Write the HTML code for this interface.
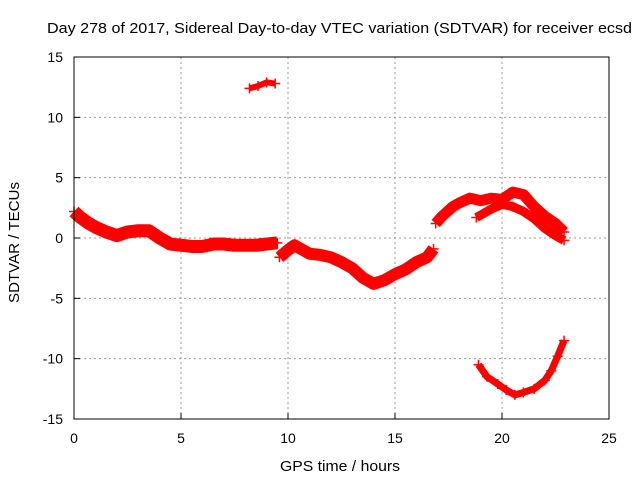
<!DOCTYPE html>
<html><head><meta charset="utf-8"><style>
body{margin:0;background:#fff}
svg{font-family:"Liberation Sans",sans-serif;font-size:13px}
</style></head><body>
<svg id="c" width="640" height="480">
<text x="47" y="33" font-size="15" textLength="585" lengthAdjust="spacingAndGlyphs">Day 278 of 2017, Sidereal Day-to-day VTEC variation (SDTVAR) for receiver ecsd</text>
<text x="280" y="471" font-size="15" textLength="120" lengthAdjust="spacingAndGlyphs">GPS time / hours</text>
<text transform="translate(19,303) rotate(-90)" font-size="15" textLength="121" lengthAdjust="spacingAndGlyphs">SDTVAR / TECUs</text>
<g id="grid"></g><g id="marks"></g>
<rect x="74" y="57" width="535" height="362" fill="none" stroke="#000" stroke-width="1"/>
</svg>
<script>
const xTicks=[0,5,10,15,20,25];
const yTicks=[-15,-10,-5,0,5,10,15];
const segA_x=[0,0.3,0.7,1.0,1.5,2.0,2.5,3.0,3.5,4.0,4.5,5.0,5.5,6.0,6.5,7.0,7.5,8.0,8.5,9.0,9.5];
const segA_y=[2.2,1.7,1.2,0.9,0.5,0.2,0.5,0.6,0.6,0.0,-0.5,-0.6,-0.7,-0.7,-0.5,-0.5,-0.6,-0.6,-0.6,-0.5,-0.4];
const segB_x=[9.6,10.0,10.3,10.7,11.0,11.5,12.0,12.5,13.0,13.5,14.0,14.5,15.0,15.5,16.0,16.5,16.8];
const segB_y=[-1.6,-1.0,-0.6,-1.0,-1.3,-1.4,-1.6,-2.0,-2.5,-3.3,-3.8,-3.5,-3.0,-2.6,-2.0,-1.6,-0.9];
const segC_x=[16.9,17.2,17.7,18.0,18.5,19.0,19.5,20.0,20.5,21.0,21.5,22.0,22.5,22.9];
const segC_y=[1.2,1.8,2.6,2.9,3.3,3.1,3.3,3.2,3.8,3.6,2.6,1.8,1.2,0.5];
const segF_x=[18.8,19.5,20.0,20.5,21.0,21.5,22.0,22.5,22.9];
const segF_y=[1.7,2.4,2.8,2.6,2.2,1.6,0.8,0.2,-0.2];
const segD_x=[18.9,19.3,19.8,20.2,20.6,21.0,21.5,22.0,22.3,22.6,22.9];
const segD_y=[-10.5,-11.5,-12.1,-12.6,-13.0,-12.8,-12.5,-11.8,-11.0,-9.8,-8.5];
const segE_x=[8.2,8.6,9.0,9.4];
const segE_y=[12.4,12.6,12.9,12.8];
const X=v=>74+v*535/25, Y=v=>238-v*362/30;
const NS="http://www.w3.org/2000/svg", svg=document.getElementById('c');
const grid=document.getElementById('grid'), marks=document.getElementById('marks');
xTicks.forEach(t=>{
  const x=X(t);
  if(t>0&&t<25){const l=document.createElementNS(NS,'line');
  
  
  l.setAttribute('x1',x);l.setAttribute('x2',x);l.setAttribute('y1',57);l.setAttribute('y2',419);
  l.setAttribute('stroke','#999');l.setAttribute('stroke-dasharray','2,3');grid.appendChild(l);}
  const tk=document.createElementNS(NS,'line');
  
  
  tk.setAttribute('x1',x);tk.setAttribute('x2',x);tk.setAttribute('y1',419);tk.setAttribute('y2',413);tk.setAttribute('stroke','#000');grid.appendChild(tk);
  const s=document.createElementNS(NS,'text');
  
  
  s.setAttribute('x',x);s.setAttribute('y',443);s.setAttribute('text-anchor','middle');s.setAttribute('font-size','14');s.textContent=t;grid.appendChild(s);
});
yTicks.forEach(t=>{
  const y=Y(t);
  if(t>-15&&t<15){const l=document.createElementNS(NS,'line');
  
  
  l.setAttribute('x1',74);l.setAttribute('x2',609);l.setAttribute('y1',y);l.setAttribute('y2',y);
  l.setAttribute('stroke','#999');l.setAttribute('stroke-dasharray','2,3');grid.appendChild(l);}
  const tk=document.createElementNS(NS,'line');
  
  
  tk.setAttribute('x1',74);tk.setAttribute('x2',80);tk.setAttribute('y1',y);tk.setAttribute('y2',y);tk.setAttribute('stroke','#000');grid.appendChild(tk);
  const s=document.createElementNS(NS,'text');
  
  
  s.setAttribute('x',63);s.setAttribute('y',y+5);s.setAttribute('text-anchor','end');s.setAttribute('font-size','14');s.textContent=t;grid.appendChild(s);
});
function series(xs,ys,w,name){
  const p=document.createElementNS(NS,'polyline');
  
  
  p.setAttribute('points',xs.map((v,i)=>X(v)+','+Y(ys[i])).join(' '));
  p.setAttribute('fill','none');p.setAttribute('stroke','#f00');p.setAttribute('stroke-width',w);
  p.setAttribute('stroke-linejoin','round');marks.appendChild(p);
  xs.forEach((v,i)=>{
    const m=document.createElementNS(NS,'path');
    
    
    const x=X(v),y=Y(ys[i]);
    m.setAttribute('d',`M${x-5},${y}h10M${x},${y-5}v10`);
    m.setAttribute('stroke','#f00');m.setAttribute('stroke-width',1.5);marks.appendChild(m);
  });
}
series(segA_x,segA_y,13,'series-a');
series(segB_x,segB_y,12,'series-b');
series(segC_x,segC_y,11,'series-c');
series(segF_x,segF_y,9,'series-f');
series(segD_x,segD_y,7,'series-d');
series(segE_x,segE_y,6,'series-e');
</script>
</body></html>
